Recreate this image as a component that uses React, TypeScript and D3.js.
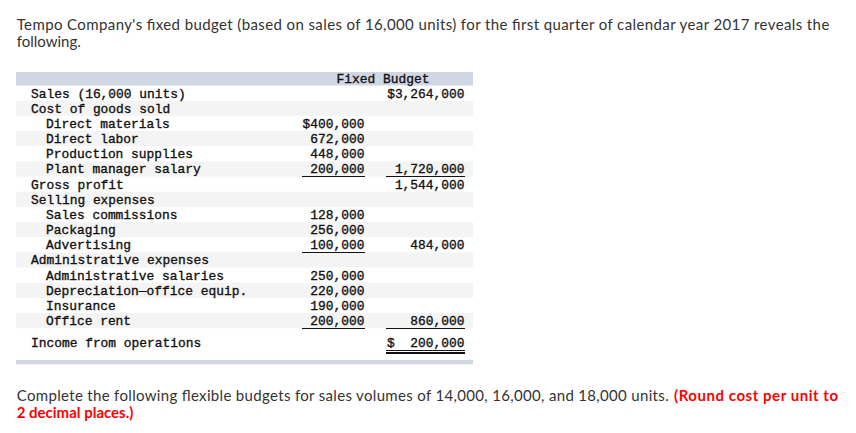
import React from "react";
import * as d3 from "d3";

// ---- data ----
const rowLabels = [
  "Sales (16,000 units)",
  "Cost of goods sold",
  "Direct materials",
  "Direct labor",
  "Production supplies",
  "Plant manager salary",
  "Gross profit",
  "Selling expenses",
  "Sales commissions",
  "Packaging",
  "Advertising",
  "Administrative expenses",
  "Administrative salaries",
  "Depreciation\u2014office equip.",
  "Insurance",
  "Office rent",
  "Income from operations",
];
const rowIndent = [0, 0, 1, 1, 1, 1, 0, 0, 1, 1, 1, 0, 1, 1, 1, 1, 0];
const detailValues = ["", "", "$400,000", "672,000", "448,000", "200,000", "", "", "128,000", "256,000", "100,000", "", "250,000", "220,000", "190,000", "200,000", ""];
const totalValues = ["$3,264,000", "", "", "", "", "1,720,000", "1,544,000", "", "", "", "484,000", "", "", "", "", "860,000", "200,000"];
const detailUnderline = [5, 10, 15];
const totalUnderline = [5, 15];
const headerLabel = "Fixed Budget";
const introText = "Tempo Company's fixed budget (based on sales of 16,000 units) for the first quarter of calendar year 2017 reveals the";
const introText2 = "following.";
const taskText = "Complete the following flexible budgets for sales volumes of 14,000, 16,000, and 18,000 units.";
const taskRed1 = "(Round cost per unit to";
const taskRed2 = "2 decimal places.)";

const W = 856;
const H = 433;

export default function App() {
  const tableLeft = 16;
  const tableRight = 473;
  const rowH = 15.17;
  const firstRowTop = 85.5;
  const y = d3
    .scaleLinear()
    .domain([0, 1])
    .range([firstRowTop, firstRowTop + rowH]);
  const indentX = d3.scaleLinear().domain([0, 1]).range([31, 46]);
  const col1Right = 364.5;
  const col2Right = 464.5;
  const col1Left = 302;
  const col2Left = 386;
  const lastIdx = rowLabels.length - 1;
  const incomeExtra = 7;
  const mono = "'Liberation Mono', 'Courier New', monospace";
  const fs = 12.9;
  const txtColor = "#111";

  const rowTop = (i: number) => y(i);
  const baseline = (i: number) => rowTop(i) + 12 + (i === lastIdx ? incomeExtra : 0);

  return (
    <svg
      width={W}
      height={H}
      style={{ position: "absolute", left: 0, top: 0, background: "#fff" }}
      xmlns="http://www.w3.org/2000/svg"
    >
      <rect x={0} y={0} width={W} height={H} fill="#fff" />
      {/* intro */}
      <g fontFamily="Lato, 'Open Sans', sans-serif" fontSize={15} fill="#333">
        <text x={16.7} y={30} textLength={812.6} lengthAdjust="spacing">
          {introText}
        </text>
        <text x={16.7} y={47.3}>
          {introText2}
        </text>
      </g>

      {/* table background */}
      <rect x={tableLeft} y={72} width={tableRight - tableLeft} height={firstRowTop - 72} fill="#d0d6e2" />
      {rowLabels.map((_, i) =>
        i % 2 === 1 && i !== lastIdx ? (
          <rect key={"bg" + i} x={tableLeft} y={rowTop(i)} width={tableRight - tableLeft} height={rowH} fill="#f4f4f4" />
        ) : null
      )}
      <rect x={tableLeft} y={360} width={tableRight - tableLeft} height={4.3} fill="#d0d6e2" />

      <g fontFamily={mono} fontSize={fs} fill={txtColor} stroke={txtColor} strokeWidth={0.35}>
        <text x={383} y={83} textAnchor="middle">
          {headerLabel}
        </text>
        {rowLabels.map((lab, i) => (
          <text key={"l" + i} x={indentX(rowIndent[i])} y={baseline(i)}>
            {lab}
          </text>
        ))}
        {detailValues.map((v, i) =>
          v ? (
            <text key={"d" + i} x={col1Right} y={baseline(i)} textAnchor="end">
              {v}
            </text>
          ) : null
        )}
        {totalValues.map((v, i) =>
          v ? (
            <text key={"t" + i} x={col2Right} y={baseline(i)} textAnchor="end">
              {v}
            </text>
          ) : null
        )}
        <text x={col2Left + 1} y={baseline(lastIdx)}>
          $
        </text>
      </g>

      {/* underlines */}
      <g stroke="#111" strokeWidth={1.1} shapeRendering="crispEdges">
        {detailUnderline.map((i) => (
          <line key={"du" + i} x1={col1Left} x2={col1Right + 0.5} y1={rowTop(i) + rowH} y2={rowTop(i) + rowH} />
        ))}
        {totalUnderline.map((i) => (
          <line key={"tu" + i} x1={col2Left} x2={col2Right + 0.5} y1={rowTop(i) + rowH} y2={rowTop(i) + rowH} />
        ))}
        <line x1={col2Left} x2={col2Right + 0.5} y1={350.5} y2={350.5} />
        <line x1={col2Left} x2={col2Right + 0.5} y1={353} y2={353} />
      </g>

      {/* task */}
      <g fontFamily="Lato, 'Open Sans', sans-serif" fontSize={15}>
        <text x={16.7} y={400.7} fill="#333" textLength={652} lengthAdjust="spacing">
          {taskText}
        </text>
        <text x={674} y={400.7} fill="#ff0000" fontWeight="bold" textLength={164} lengthAdjust="spacing">
          {taskRed1}
        </text>
        <text x={16.7} y={418} fill="#ff0000" fontWeight="bold">
          {taskRed2}
        </text>
      </g>
    </svg>
  );
}
